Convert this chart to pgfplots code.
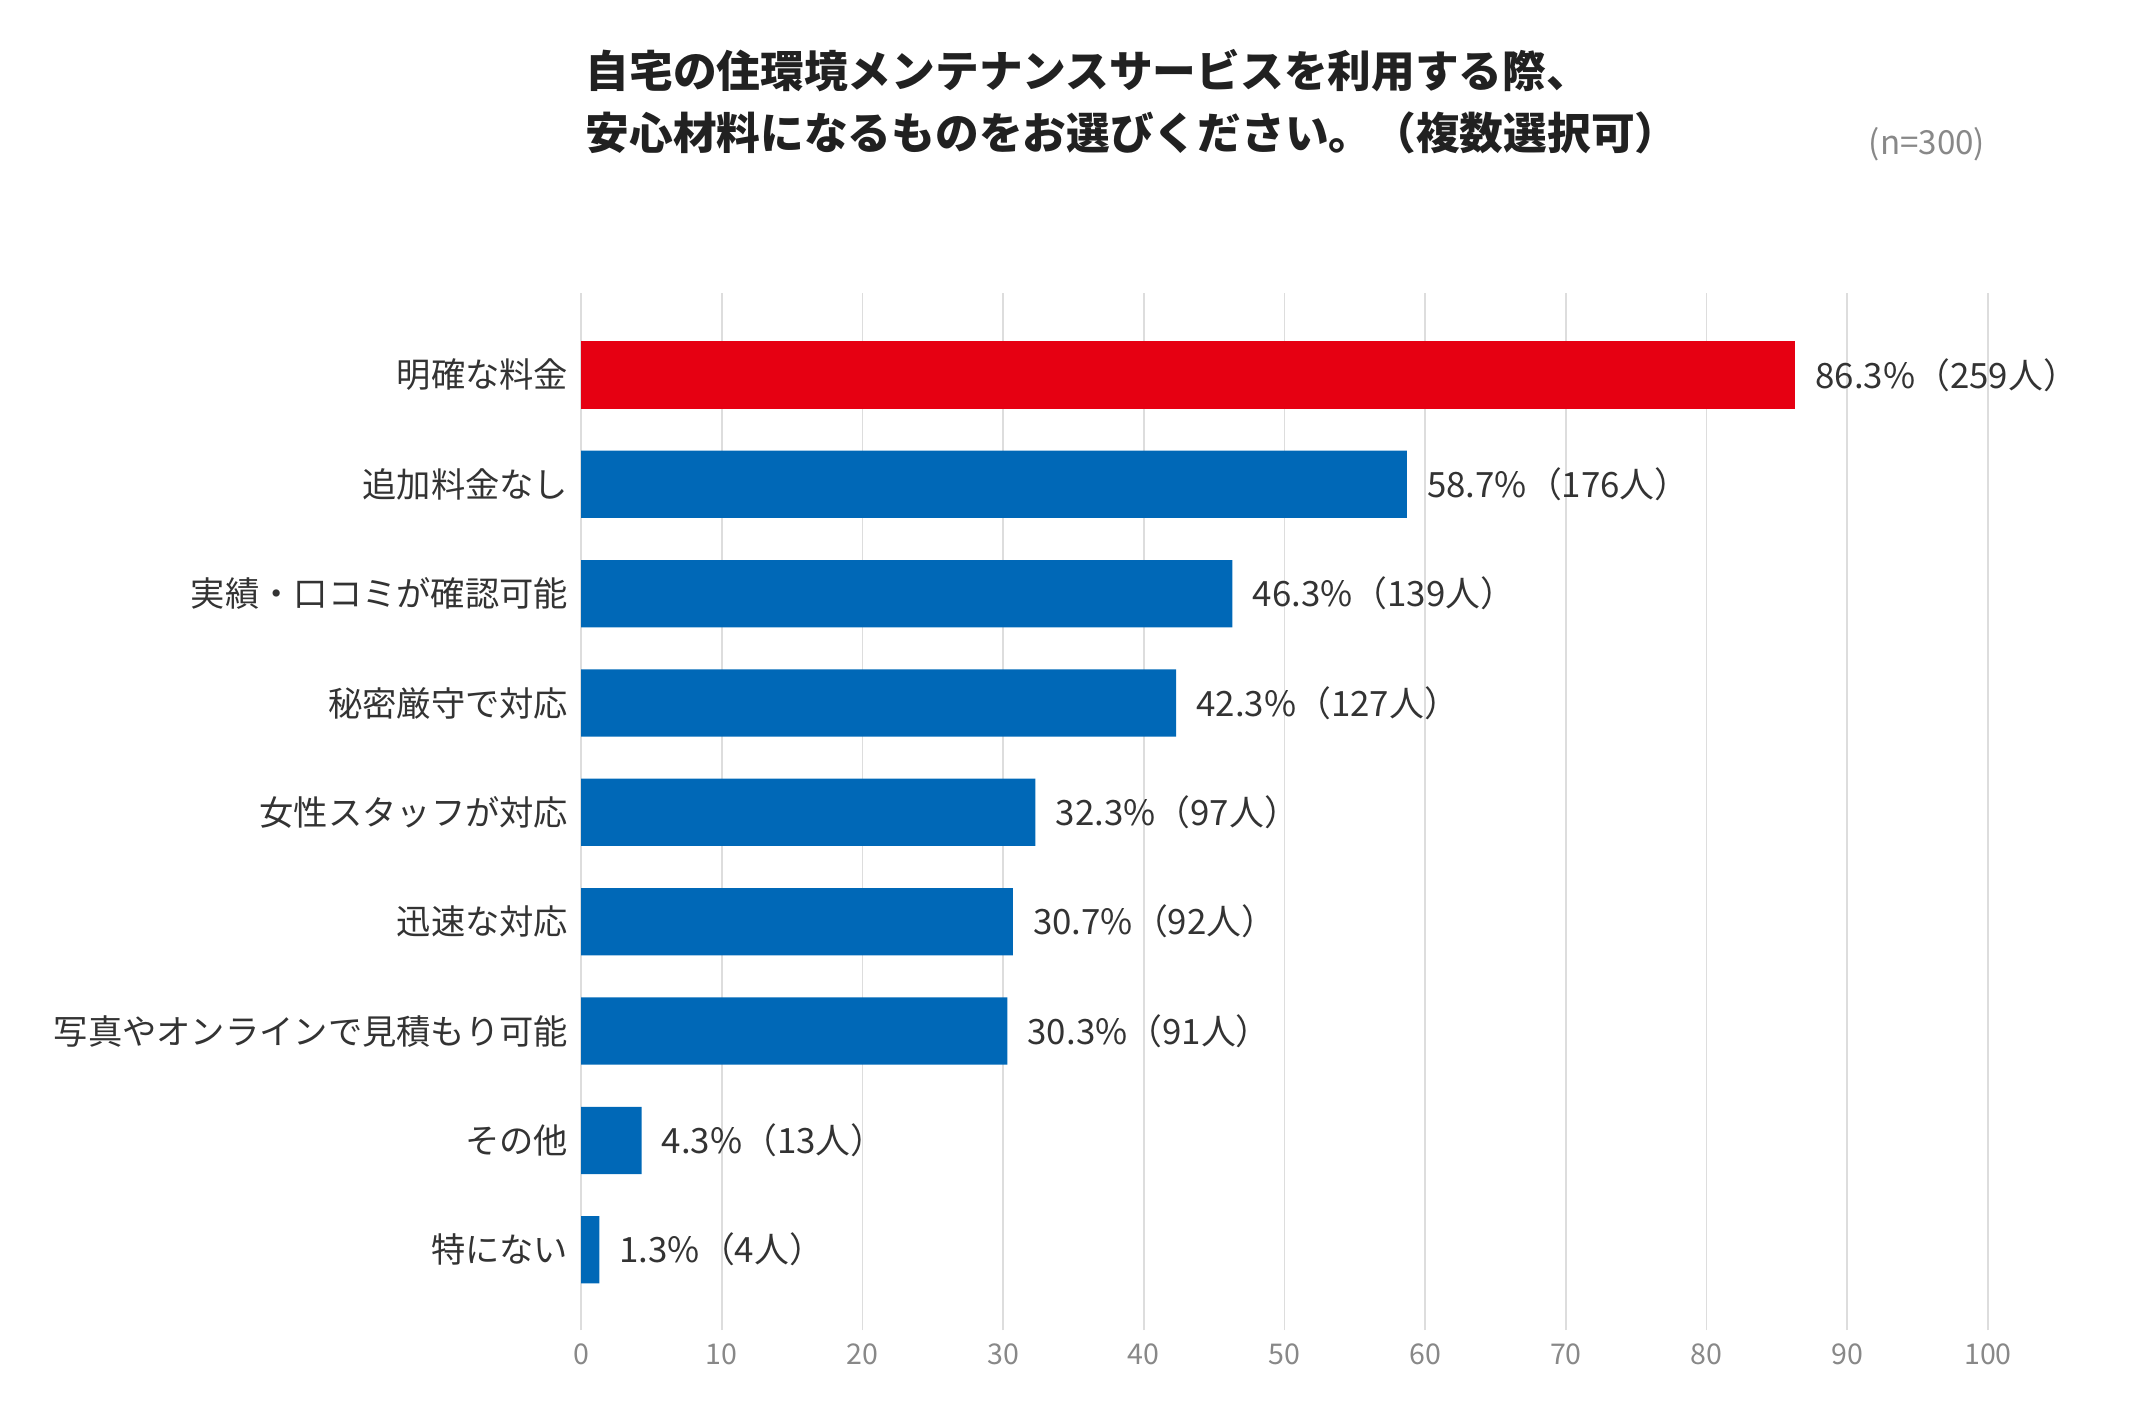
\documentclass[border=0pt]{standalone}
\usepackage{fontspec}
\setmainfont{Noto Sans CJK JP}
\usepackage{pgfplots}
\pgfplotsset{compat=1.18}
\definecolor{barred}{RGB}{230,0,18}
\definecolor{barblue}{RGB}{0,104,183}
\definecolor{txt}{RGB}{51,51,51}
\definecolor{tickgray}{RGB}{136,136,136}
\definecolor{gridgray}{RGB}{221,221,221}
\begin{document}
\begin{tikzpicture}
\path[use as bounding box] (0,0) rectangle (745.5pt,497.7pt);
\node[anchor=west,inner sep=0,text=black!87] at (204.75pt,473.0pt) {\fontsize{15.3pt}{18pt}\selectfont\bfseries 自宅の住環境メンテナンスサービスを利用する際、};
\node[anchor=west,inner sep=0,text=black!87] at (204.75pt,451.2pt) {\fontsize{15.3pt}{18pt}\selectfont\bfseries 安心材料になるものをお選びください。（複数選択可）};
\node[anchor=east,inner sep=0,text=tickgray] at (695pt,447.3pt) {\fontsize{11.6pt}{13pt}\selectfont (n=300)};
\begin{axis}[
  at={(203.35pt,32.2pt)}, anchor=south west,
  scale only axis, width=492.45pt, height=362.85pt,
  xbar, bar shift=0pt, bar width=0.615,
  xmin=0, xmax=100, ymin=-0.734, ymax=8.747,
  xtick={0,10,...,100},
  ytick={0,...,8},
  yticklabels={特にない,その他,写真やオンラインで見積もり可能,迅速な対応,女性スタッフが対応,秘密厳守で対応,実績・口コミが確認可能,追加料金なし,明確な料金},
  xmajorgrids, grid style={gridgray, line width=0.6pt},
  axis line style={draw=none}, tick style={draw=none},
  major tick length=0pt,
  /pgf/number format/assume math mode=true,
  xticklabel style={text=tickgray, font=\fontsize{10pt}{12pt}\selectfont, anchor=north, yshift=-1.4pt},
  yticklabel style={text=txt, font=\fontsize{12pt}{14pt}\selectfont, anchor=east, inner sep=0pt, xshift=-4.3pt},
  point meta=explicit symbolic,
  nodes near coords={\pgfplotspointmeta},
  nodes near coords style={anchor=west, inner sep=0pt, xshift=6.9pt, text=txt, font=\fontsize{12.2pt}{14pt}\selectfont},
]
\addplot[fill=barred, draw=none] coordinates {(86.3,8) [86.3\%（259人）]};
\addplot[fill=barblue, draw=none] coordinates {
(58.7,7) [58.7\%（176人）]
(46.3,6) [46.3\%（139人）]
(42.3,5) [42.3\%（127人）]
(32.3,4) [32.3\%（97人）]
(30.7,3) [30.7\%（92人）]
(30.3,2) [30.3\%（91人）]
(4.3,1) [4.3\%（13人）]
(1.3,0) [1.3\%（4人）]
};
\end{axis}
\end{tikzpicture}
\end{document}
